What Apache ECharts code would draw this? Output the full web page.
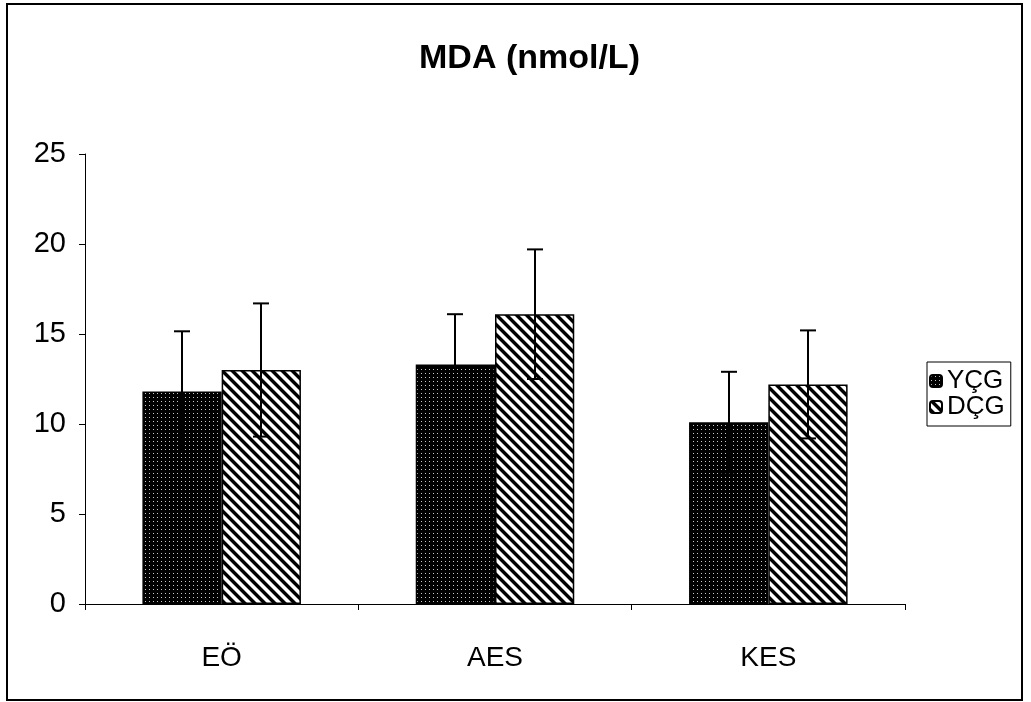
<!DOCTYPE html>
<html>
<head>
<meta charset="utf-8">
<script src="https://cdn.jsdelivr.net/npm/echarts@6/dist/echarts.min.js"></script>
<style>
html,body{margin:0;padding:0;background:#fff;}
#main{width:1031px;height:702px;}
</style>
</head>
<body>
<div id="main"></div>
<script>
var categories = ['EÖ', 'AES', 'KES'];
var seriesNames = ['YÇG', 'DÇG'];
var ycgValues = [11.8, 13.3, 10.1];
var dcgValues = [13.0, 16.1, 12.2];
var ycgErr = [3.35, 2.8, 2.8];
var dcgErr = [3.7, 3.6, 3.0];
var yTicks = {min: 0, max: 25, interval: 5};

function makeDots() {
  var c = document.createElement('canvas');
  c.width = 4; c.height = 4;
  var ctx = c.getContext('2d');
  var img = ctx.createImageData(4, 4);
  for (var y = 0; y < 4; y++) for (var x = 0; x < 4; x++) {
    var i = (y * 4 + x) * 4;
    var v = (x === 1 && y === 1) ? 200 : 0;
    img.data[i] = v; img.data[i+1] = v; img.data[i+2] = v; img.data[i+3] = 255;
  }
  ctx.putImageData(img, 0, 0);
  return c;
}
function makeStripes() {
  var n = 10;
  var c = document.createElement('canvas');
  c.width = n; c.height = n;
  var ctx = c.getContext('2d');
  var img = ctx.createImageData(n, n);
  for (var y = 0; y < n; y++) for (var x = 0; x < n; x++) {
    var i = (y * n + x) * 4;
    var d = ((x - y) % n + n) % n;
    var v = d < 4 ? 0 : (d === 4 || d === 9 ? 140 : 255);
    img.data[i] = v; img.data[i+1] = v; img.data[i+2] = v; img.data[i+3] = 255;
  }
  ctx.putImageData(img, 0, 0);
  return c;
}

var fills = [
  {image: makeDots(), repeat: 'repeat'},
  {image: makeStripes(), repeat: 'repeat'}
];
var values = [ycgValues, dcgValues];
var errs = [ycgErr, dcgErr];
var BAR_FRAC = 0.29;

var chart = echarts.init(document.getElementById('main'));

function errorSeries(si) {
  var data = values[si].map(function (v, i) {
    return [i, v - errs[si][i], v + errs[si][i]];
  });
  return {
    type: 'custom',
    name: seriesNames[si] + '_err',
    silent: true,
    z: 10,
    data: data,
    renderItem: function (params, api) {
      var idx = api.value(0);
      var lo = api.coord([idx, api.value(1)]);
      var hi = api.coord([idx, api.value(2)]);
      var band = api.size([1, 0])[0];
      var barW = band * BAR_FRAC;
      var off = si === 0 ? -barW / 2 : barW / 2;
      var x = Math.round(lo[0] + off);
      var cap = 8;
      var st = {stroke: '#000', lineWidth: 2, fill: null};
      return {
        type: 'group',
        children: [
          {type: 'line', shape: {x1: x, y1: hi[1], x2: x, y2: lo[1]}, style: st},
          {type: 'line', shape: {x1: x - cap, y1: hi[1], x2: x + cap, y2: hi[1]}, style: st},
          {type: 'line', shape: {x1: x - cap, y1: lo[1], x2: x + cap, y2: lo[1]}, style: st}
        ]
      };
    }
  };
}

var option = {
  animation: false,
  backgroundColor: '#fff',
  textStyle: {fontFamily: 'Liberation Sans, Arial, sans-serif', color: '#000'},
  title: {
    text: 'MDA (nmol/L)',
    left: 414,
    top: 37,
    textStyle: {fontSize: 34, fontWeight: 'bold', color: '#000', fontFamily: 'Liberation Sans, Arial, sans-serif'}
  },
  graphic: [{
    type: 'rect',
    shape: {x: 7, y: 4, width: 1015, height: 696},
    style: {fill: null, stroke: '#000', lineWidth: 2},
    silent: true
  }],
  legend: {
    data: seriesNames,
    orient: 'vertical',
    left: 927,
    top: 362,
    padding: [6, 6, 6, 2],
    itemGap: 0,
    itemWidth: 12,
    itemHeight: 12,
    borderColor: '#000',
    borderWidth: 1,
    textStyle: {fontSize: 26, lineHeight: 26, color: '#000', fontFamily: 'Liberation Sans, Arial, sans-serif'}
  },
  grid: {left: 85, right: 126, top: 154, bottom: 98},
  xAxis: {
    type: 'category',
    data: categories,
    axisLine: {lineStyle: {color: '#000', width: 1}},
    axisTick: {show: true, length: 6, lineStyle: {color: '#000'}},
    axisLabel: {fontSize: 28, color: '#000', margin: 40, fontFamily: 'Liberation Sans, Arial, sans-serif'},
    splitLine: {show: false}
  },
  yAxis: {
    type: 'value',
    min: yTicks.min,
    max: yTicks.max,
    interval: yTicks.interval,
    axisLine: {show: true, lineStyle: {color: '#000', width: 1}},
    axisTick: {show: true, length: 6, lineStyle: {color: '#000'}},
    axisLabel: {fontSize: 29, color: '#000', margin: 19, fontFamily: 'Liberation Sans, Arial, sans-serif'},
    splitLine: {show: false}
  },
  series: [
    {
      name: seriesNames[0], type: 'bar', data: ycgValues,
      barWidth: (BAR_FRAC * 100) + '%', barGap: '0%',
      itemStyle: {color: fills[0], borderColor: '#000', borderWidth: 1.5}
    },
    {
      name: seriesNames[1], type: 'bar', data: dcgValues,
      barWidth: (BAR_FRAC * 100) + '%', barGap: '0%',
      itemStyle: {color: fills[1], borderColor: '#000', borderWidth: 1.5}
    },
    errorSeries(0),
    errorSeries(1)
  ]
};
chart.setOption(option);
</script>
</body>
</html>
